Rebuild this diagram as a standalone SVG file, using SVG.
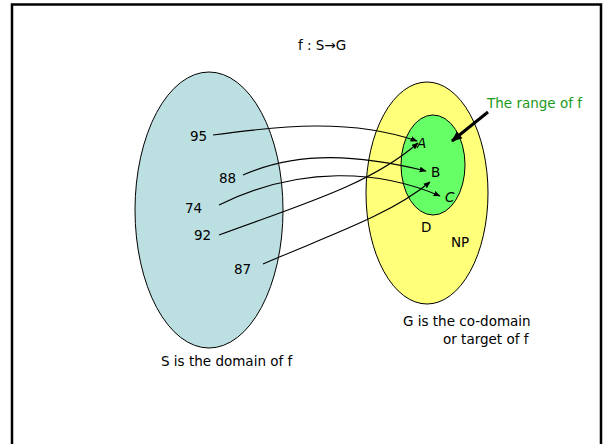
<svg xmlns="http://www.w3.org/2000/svg" width="604" height="444" viewBox="0 0 604 444">
<style>
text{font-family:"DejaVu Sans","Liberation Sans",sans-serif;font-size:13.5px;fill:#000}
.g{fill:#1a9a1a}
.c{fill:none;stroke:#000;stroke-width:1.1}
</style>
<defs>
<marker id="ah" viewBox="0 0 10 10" refX="9" refY="5" markerWidth="7" markerHeight="7" orient="auto" markerUnits="userSpaceOnUse">
<path d="M0,1 L10,5 L0,9 z" fill="#000"/>
</marker>
<marker id="ahb" viewBox="0 0 10 10" refX="9" refY="5" markerWidth="11" markerHeight="11" orient="auto" markerUnits="userSpaceOnUse">
<path d="M0,1 L10,5 L0,9 z" fill="#000"/>
</marker>
</defs>
<rect x="0" y="0" width="604" height="444" fill="#fff"/>
<path d="M12,460 V4.5 H601 V460" fill="none" stroke="#000" stroke-width="2.5"/>
<text x="322" y="50" text-anchor="middle">f : S→G</text>
<g id="S"><ellipse cx="209" cy="210" rx="74" ry="138" fill="#bcdfe2" stroke="#000" stroke-width="1"/></g>
<g id="G"><ellipse cx="427" cy="193" rx="61" ry="111" fill="#ffff7a" stroke="#000" stroke-width="1"/></g>
<g id="D"><ellipse cx="433" cy="165" rx="32" ry="50" fill="#66ff66" stroke="#000" stroke-width="1"/></g>
<g id="labels">
<text x="190" y="141">95</text>
<text x="219" y="183">88</text>
<text x="185" y="213">74</text>
<text x="194" y="240">92</text>
<text x="234" y="274">87</text>
<text x="417" y="148" font-style="italic">A</text>
<text x="431" y="177">B</text>
<text x="445" y="202" font-style="italic">C</text>
<text x="421" y="232">D</text>
<text x="451" y="247">NP</text>
<text class="g" x="487" y="108">The range of f</text>
<text x="161" y="366">S is the domain of f</text>
<text x="403" y="326">G is the co-domain</text>
<text x="443" y="344">or target of f</text>
</g>
<g id="connectors">
<path class="c" d="M213,135 C280,126 350,118 417,141" marker-end="url(#ah)"/>
<path class="c" d="M243,175 C300,150 360,155 426,171" marker-end="url(#ah)"/>
<path class="c" d="M219,205 C300,165 380,170 440,196" marker-end="url(#ah)"/>
<path class="c" d="M219,235 C300,205 370,185 418,143" marker-end="url(#ah)"/>
<path class="c" d="M263,264 C330,235 390,215 430,182" marker-end="url(#ah)"/>
<path d="M488,112 L452,141" fill="none" stroke="#000" stroke-width="3" marker-end="url(#ahb)"/>
</g>
</svg>
